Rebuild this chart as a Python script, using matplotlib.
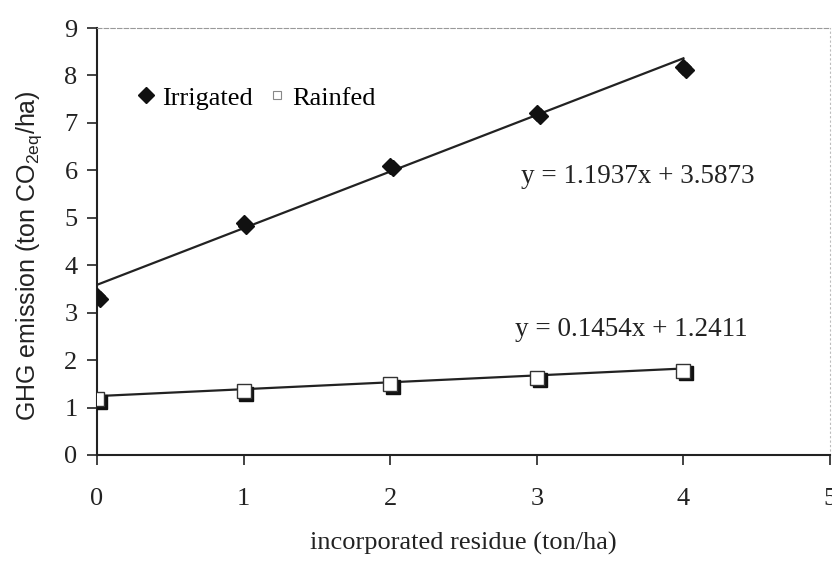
import numpy as np
import matplotlib
matplotlib.use("Agg")
import matplotlib.pyplot as plt
from matplotlib.transforms import offset_copy

residue = [0, 1, 2, 3, 4]
irrigated = [3.35, 4.88, 6.10, 7.20, 8.18]
rainfed = [1.18, 1.35, 1.50, 1.63, 1.78]
fit_irr = (1.1937, 3.5873)
fit_rain = (0.1454, 1.2411)
eq_irr = "y = 1.1937x + 3.5873"
eq_rain = "y = 0.1454x + 1.2411"

plt.rcParams["font.family"] = "Liberation Serif"
plt.rcParams["mathtext.fontset"] = "custom"
plt.rcParams["mathtext.rm"] = "Liberation Sans"

fig = plt.figure(figsize=(8.32, 5.61), dpi=100)
ax = fig.add_axes([0.1166, 0.189, 0.8810, 0.761])

xs = np.array([residue[0], residue[-1]])
ax.plot(xs, fit_irr[0] * xs + fit_irr[1], color="#222222", lw=1.6, zorder=2)
ax.plot(xs, fit_rain[0] * xs + fit_rain[1], color="#222222", lw=1.6, zorder=2)

# scanned-looking drop shadow under markers
shadow = offset_copy(ax.transData, fig=fig, x=2.0, y=-2.0, units="points")
ax.plot(residue, irrigated, "D", ms=8, color="#111111", transform=shadow, zorder=3)
ax.plot(residue, rainfed, "s", ms=10, color="#111111", transform=shadow, zorder=3)
ax.plot(residue, irrigated, "D", ms=8, color="#111111", mec="#111111", zorder=4, label="Irrigated")
ax.plot(residue, rainfed, "s", ms=10, color="white", mec="#333333", mew=1.0, zorder=4)
ax.plot([], [], "s", ms=6, color="white", mec="#888888", mew=0.8, label="Rainfed")

ax.text(2.89, 5.88, eq_irr, fontsize=19.5, ha="left", va="center", color="#222222")
ax.text(2.85, 2.64, eq_rain, fontsize=19.5, ha="left", va="center", color="#222222")

ax.set_xlim(0, 5)
ax.set_ylim(0, 9)
ax.set_xticks(range(6))
ax.set_yticks(range(10))
ax.tick_params(axis="x", direction="out", length=7, width=1.2, pad=17, labelsize=19, colors="#222222")
ax.tick_params(axis="y", direction="out", length=7, width=1.2, pad=7, labelsize=19, colors="#222222")

for s in ["left", "bottom"]:
    ax.spines[s].set_linewidth(1.5)
    ax.spines[s].set_color("#222222")
ax.spines["top"].set_linestyle((0, (4, 2)))
ax.spines["top"].set_color("#999999")
ax.spines["top"].set_linewidth(0.8)
ax.spines["right"].set_linestyle((0, (1, 3)))
ax.spines["right"].set_color("#bbbbbb")
ax.spines["right"].set_linewidth(0.8)

ax.set_xlabel("incorporated residue (ton/ha)", fontsize=19, color="#222222")
ax.xaxis.set_label_coords(0.5, -0.18)
ax.set_ylabel("GHG emission (ton CO$_\\mathrm{2eq}$/ha)", fontsize=18, family="Liberation Sans",
              color="#222222")
ax.yaxis.set_label_coords(-0.072, 0.468)

ax.legend(loc="center left", bbox_to_anchor=(0.024, 7.53 / 9), ncol=2, frameon=False,
          fontsize=19, handlelength=0.6, handletextpad=0.3, columnspacing=0.6)

fig.savefig("out.png", dpi=100)
